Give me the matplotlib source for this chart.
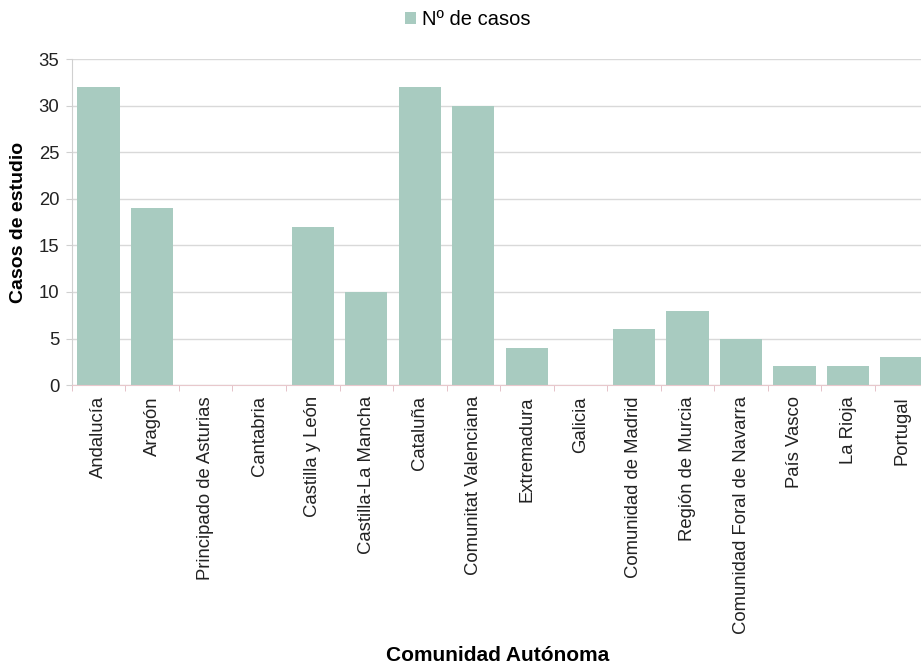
import matplotlib
matplotlib.use("Agg")
import matplotlib.pyplot as plt
import numpy as np

plt.rcParams['font.family'] = ['Liberation Sans', 'DejaVu Sans']

regions = ["Andalucía", "Aragón", "Principado de Asturias", "Cantabria",
           "Castilla y León", "Castilla-La Mancha", "Cataluña",
           "Comunitat Valenciana", "Extremadura", "Galicia",
           "Comunidad de Madrid", "Región de Murcia",
           "Comunidad Foral de Navarra", "País Vasco", "La Rioja", "Portugal"]
cases = [32, 19, 0, 0, 17, 10, 32, 30, 4, 0, 6, 8, 5, 2, 2, 3]
yticks = [0, 5, 10, 15, 20, 25, 30, 35]

bar_color = "#a8cbc0"

fig = plt.figure(figsize=(9.21, 6.64), dpi=100)
ax = fig.add_axes([0.078, 0.42, 0.93, 0.491])

x = np.arange(len(regions))
ax.bar(x, cases, width=0.79, color=bar_color, label="Nº de casos", zorder=2)

ax.set_xlim(-0.5, len(regions) - 0.5)
ax.set_ylim(0, 35)
ax.set_yticks(yticks)
ax.yaxis.grid(True, color="#d9d9d9", linewidth=1, zorder=0)
ax.set_axisbelow(True)

ax.set_xticks(x)
ax.set_xticklabels(regions, rotation=90, fontsize=13.3, color="#222222")
ax.tick_params(axis="x", length=0, pad=8)
ax.set_xticks(np.arange(-0.5, len(regions), 1), minor=True)
ax.tick_params(axis="x", which="minor", length=4, color="#e0b8c0")
ax.tick_params(axis="y", length=4, color="#d0d0d0", labelsize=13.3,
               labelcolor="#222222", pad=5)

for side in ("top", "right"):
    ax.spines[side].set_visible(False)
ax.spines["left"].set_color("#d0d0d0")
ax.spines["bottom"].set_color("#e8c8cc")

ax.set_ylabel("Casos de estudio", fontsize=14, fontweight="bold", labelpad=8)
fig.text(0.54, 0.004, "Comunidad Autónoma", fontsize=15, fontweight="bold",
         ha="center", va="baseline")

fig.legend(loc="upper center", bbox_to_anchor=(0.508, 1.012), frameon=False,
           fontsize=14.5, handlelength=0.55, handleheight=0.55, handletextpad=0.3)

fig.savefig("out.png", dpi=100)
